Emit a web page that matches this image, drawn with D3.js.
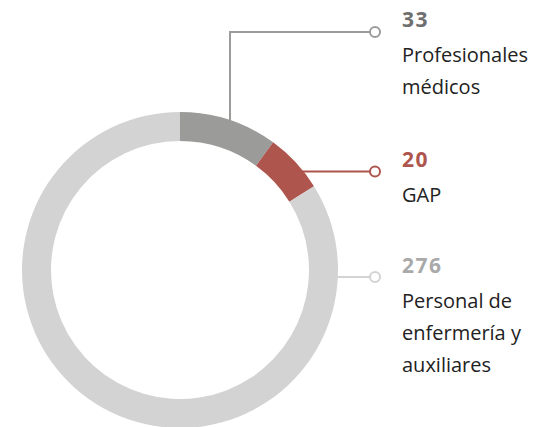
<!DOCTYPE html>
<html>
<head>
<meta charset="utf-8">
<script src="https://cdn.jsdelivr.net/npm/d3@7"></script>
<style>
  html, body { margin: 0; padding: 0; background: #fff; }
  svg { display: block; }
</style>
</head>
<body>
<svg id="chart" width="542" height="427"></svg>
<script>
// Staff groups and their counts
const categories = ["Profesionales médicos", "GAP", "Personal de enfermería y auxiliares"];
const values = [33, 20, 276];
const labelLines = [["Profesionales", "médicos"], ["GAP"], ["Personal de", "enfermería y", "auxiliares"]];
const sliceColors = ["#9b9b99", "#ae554d", "#d3d3d3"];
const valueColors = ["#6f6f6f", "#ae554d", "#a9a9a9"];
const leaderColors = ["#9b9b99", "#ae554d", "#d3d3d3"];

const svg = d3.select("#chart");
const cx = 180, cy = 270;
const outerR = 158, innerR = 129;

const pie = d3.pie().sort(null).value(d => d.value);
const data = categories.map((c, i) => ({ name: c, value: values[i], i }));
const arcs = pie(data);
const arc = d3.arc().innerRadius(innerR).outerRadius(outerR);

const g = svg.append("g").attr("transform", `translate(${cx},${cy})`);

g.selectAll("path.slice")
  .data(arcs)
  .join("path")
  .attr("class", "slice")
  .attr("d", arc)
  .attr("fill", d => sliceColors[d.data.i]);

// Label anchor positions (y of the leader line for each group)
const markerX = 375;
const textX = 402;
const leaderY = [32, 171.5, 277];

// Profesionales médicos: leader runs up from the ring, then right
{
  const x0 = 230;
  // y where the vertical line at x0 meets the outer edge
  const yEdge = cy - Math.sqrt(outerR * outerR - (x0 - cx) * (x0 - cx));
  svg.append("path")
    .attr("d", `M${x0},${yEdge + 1}V${leaderY[0]}H${markerX}`)
    .attr("fill", "none").attr("stroke", leaderColors[0]).attr("stroke-width", 2);
}
// GAP: horizontal leader starting from the middle of its slice
{
  const y = leaderY[1];
  const xStart = cx + Math.sqrt(((innerR + outerR) / 2) ** 2 - (cy - y) ** 2);
  svg.append("path")
    .attr("d", `M${xStart},${y}H${markerX}`)
    .attr("fill", "none").attr("stroke", leaderColors[1]).attr("stroke-width", 2);
}
// Personal de enfermería: horizontal leader from the ring's outer edge
{
  const y = leaderY[2];
  const xStart = cx + Math.sqrt(outerR ** 2 - (cy - y) ** 2) - 1;
  svg.append("path")
    .attr("d", `M${xStart},${y}H${markerX}`)
    .attr("fill", "none").attr("stroke", leaderColors[2]).attr("stroke-width", 2);
}

// End markers
svg.selectAll("circle.marker")
  .data(leaderY)
  .join("circle")
  .attr("class", "marker")
  .attr("cx", markerX)
  .attr("cy", d => d)
  .attr("r", 5)
  .attr("fill", "#fff")
  .attr("stroke", (d, i) => leaderColors[i])
  .attr("stroke-width", 2);

// Value and name labels
const font = "'Open Sans', 'Noto Sans', sans-serif";
const valueBase = [27, 167, 273];
data.forEach((d, i) => {
  svg.append("text")
    .attr("x", textX).attr("y", valueBase[i])
    .attr("font-family", font).attr("font-weight", 700).attr("font-size", 21)
    .attr("letter-spacing", 1.5)
    .attr("fill", valueColors[i])
    .text(values[i]);
  labelLines[i].forEach((line, j) => {
    svg.append("text")
      .attr("x", textX).attr("y", valueBase[i] + 35 + j * 32)
      .attr("font-family", font).attr("font-size", 20)
      .attr("fill", "#222")
      .text(line);
  });
});
</script>
</body>
</html>
